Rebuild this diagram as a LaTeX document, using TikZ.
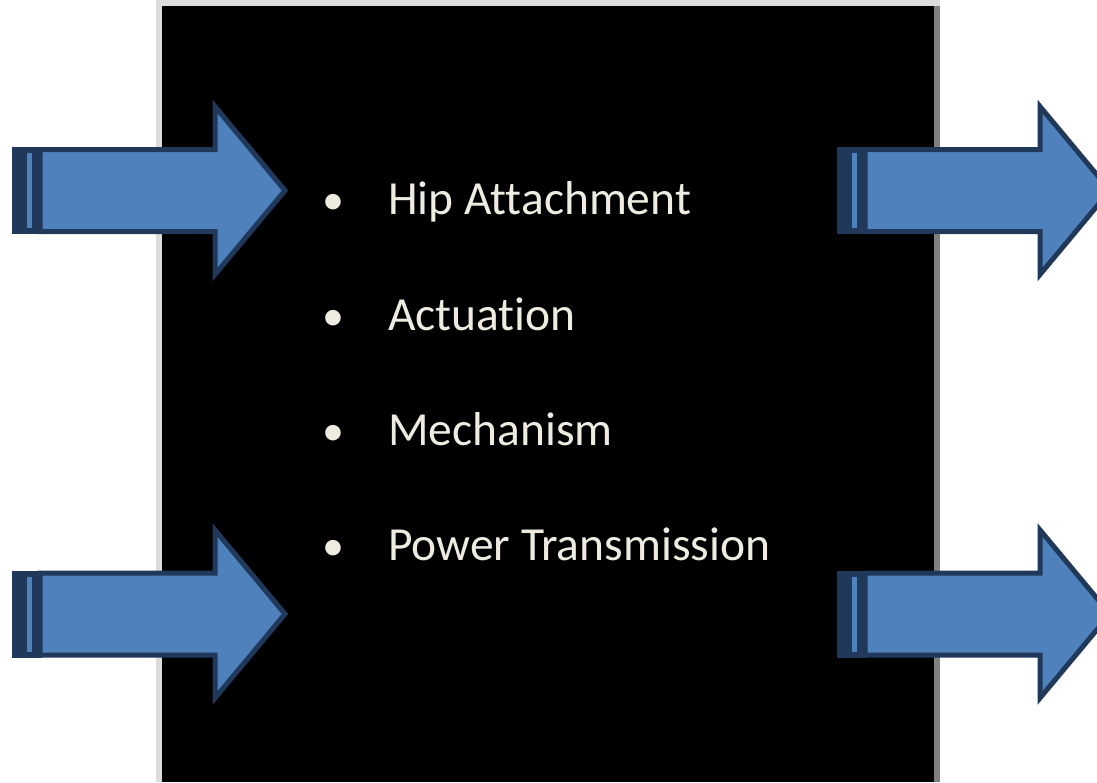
\documentclass[tikz,border=0pt]{standalone}
\usepackage{fontspec}
\setmainfont{Carlito}[Ligatures=NoCommon]
\usepackage{color}

\definecolor{arrowblue}{RGB}{79,129,189}
\definecolor{arrowdark}{RGB}{32,56,90}
\definecolor{itemtext}{RGB}{238,236,225}
\definecolor{edgelight}{RGB}{220,220,220}
\definecolor{edgedark}{RGB}{128,128,128}

\tikzset{
  arrowbody/.style={fill=arrowblue, draw=arrowdark, line width=5pt, line join=miter},
  itemlabel/.style={text=itemtext, font=\fontsize{47.5}{57}\selectfont, inner sep=0pt, anchor=base west},
  bulletmark/.style={text=itemtext, font=\fontsize{44}{57}\selectfont, inner sep=0pt, anchor=base}
}

% striped block arrow: #1 = left end, #2 = middle height
\newcommand{\stripedarrow}[2]{%
  \fill[arrowdark] (#1,#2-43.5) rectangle (#1+30,#2+43.5);
  \fill[arrowblue] (#1+15,#2-37.5) rectangle (#1+20,#2+37.5);
  \draw[arrowbody] (#1+28,#2-41) -- (#1+203,#2-41) -- (#1+203,#2-84)
    -- (#1+273,#2) -- (#1+203,#2+84) -- (#1+203,#2+41) -- (#1+28,#2+41) -- cycle;
}

\begin{document}
\begin{tikzpicture}[x=1pt, y=-1pt]
  \useasboundingbox (0,0) rectangle (1097,782);
  \clip (0,0) rectangle (1097,782);

  % the black panel
  \fill[edgelight] (156,0) rectangle (940,782);
  \fill[edgedark] (934,6) rectangle (940,782);
  \fill[black] (162,6) rectangle (934,782);

  % items
  \node[bulletmark] (b1) at (333,214) {•};
  \node[itemlabel]  (hip) at (388,214) {Hip Attachment};
  \node[bulletmark] (b2) at (333,330) {•};
  \node[itemlabel]  (act) at (388,330) {Actuation};
  \node[bulletmark] (b3) at (333,445) {•};
  \node[itemlabel]  (mech) at (388,445) {Mechanism};
  \node[bulletmark] (b4) at (333,560) {•};
  \node[itemlabel]  (power) at (388,560) {Power Transmission};

  % arrows in
  \stripedarrow{12}{190.5}
  \stripedarrow{12}{614}
  % arrows out
  \stripedarrow{837}{190.5}
  \stripedarrow{837}{614}
\end{tikzpicture}
\end{document}
